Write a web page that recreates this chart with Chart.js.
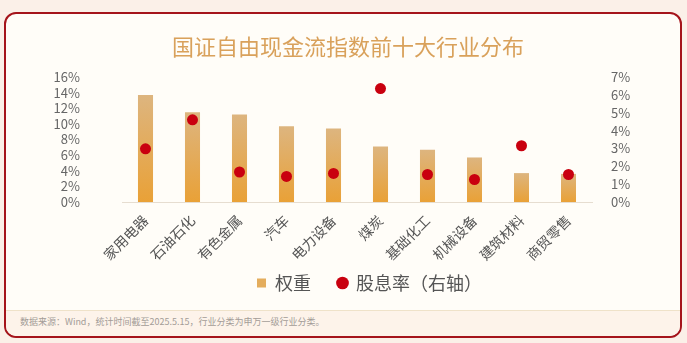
<!DOCTYPE html>
<html>
<head>
<meta charset="utf-8">
<script src="https://cdn.jsdelivr.net/npm/chart.js@4.4.1/dist/chart.umd.min.js"></script>
<style>
  html, body { margin: 0; padding: 0; }
  body {
    width: 687px; height: 343px; overflow: hidden; position: relative;
    background: #fbf0e8;
    font-family: "Noto Sans CJK SC", "Noto Sans", sans-serif;
  }
  .card {
    position: absolute; left: 4px; top: 12px; width: 678px; height: 326px;
    box-sizing: border-box; border: 2px solid #a5141b; border-radius: 12px;
    background: #fffdf8; overflow: hidden;
  }
  .title {
    position: absolute; left: 0; top: 18px; width: 684px;
    text-align: center; font-size: 22px; line-height: 26px; color: #d9a15b;
  }
  .chart-box { position: absolute; left: 0; top: 0; width: 674px; height: 296px; }
  .note {
    position: absolute; left: 0; right: 0; top: 296px; bottom: 0;
    border-top: 1px solid #efe2c9; background: #fdf3ea;
    font-size: 9px; line-height: 22px; color: #a39c97; padding-left: 14px;
  }
</style>
</head>
<body>
<div class="card">
  <div class="chart-box"><canvas id="industryChart"></canvas></div>
  <div class="title">国证自由现金流指数前十大行业分布</div>
  <div class="note">数据来源：Wind，统计时间截至2025.5.15，行业分类为申万一级行业分类。</div>
</div>
<script>
// 前十大行业：权重（左轴，%）与股息率（右轴，%）
const industries = ['家用电器', '石油石化', '有色金属', '汽车', '电力设备', '煤炭', '基础化工', '机械设备', '建筑材料', '商贸零售'];
const weights = [13.7, 11.5, 11.2, 9.7, 9.4, 7.1, 6.7, 5.7, 3.7, 3.6];
const dividendYield = [2.98, 4.6, 1.68, 1.43, 1.6, 6.35, 1.54, 1.26, 3.15, 1.54];
const weightAxis = { max: 16, step: 2 };
const yieldAxis = { max: 7, step: 1 };

const ctx = document.getElementById('industryChart').getContext('2d');

// 每根柱子从顶部浅棕渐变到底部橙色
const barFill = (c) => {
  const chart = c.chart;
  if (!chart.chartArea || c.raw === undefined) return '#e5ad58';
  const y = chart.scales.y;
  const g = chart.ctx.createLinearGradient(0, y.getPixelForValue(c.raw), 0, y.getPixelForValue(0));
  g.addColorStop(0, '#ddb57f');
  g.addColorStop(1, '#e9a137');
  return g;
};

// 图例上移、略右移，紧贴在斜放的行业名称下方
const placeLegend = {
  id: 'placeLegend',
  afterLayout(chart) {
    const l = chart.legend;
    l.top -= 18;
    l.bottom -= 18;
    l.left += 26.5;
    l.right += 26.5;
  }
};

const cjk = '"Noto Sans CJK SC", sans-serif';

new Chart(ctx, {
  data: {
    labels: industries,
    datasets: [
      {
        type: 'bar',
        label: '权重',
        data: weights,
        yAxisID: 'y',
        backgroundColor: barFill,
        barPercentage: 0.32,
        categoryPercentage: 1,
        pointStyle: 'rect',
        order: 2
      },
      {
        type: 'line',
        label: '股息率（右轴）',
        data: dividendYield,
        yAxisID: 'y1',
        showLine: false,
        pointRadius: 5.5,
        pointBackgroundColor: '#c9000f',
        pointBorderWidth: 0,
        backgroundColor: '#c9000f',
        pointStyle: 'circle',
        order: 1
      }
    ]
  },
  options: {
    responsive: true,
    maintainAspectRatio: false,
    animation: false,
    layout: { padding: { top: 63, left: 0, right: 0, bottom: -10 } },
    scales: {
      x: {
        grid: { display: false },
        border: { color: '#e6ddd0' },
        ticks: {
          autoSkip: false, minRotation: 45, maxRotation: 45,
          font: { family: cjk, size: 14 }, color: '#555', padding: 2
        },
        afterFit: (s) => { s.height = 63; }
      },
      y: {
        position: 'left',
        min: 0, max: weightAxis.max,
        grid: { display: false },
        border: { display: false },
        ticks: {
          autoSkip: false,
          stepSize: weightAxis.step, padding: 34,
          font: { family: cjk, size: 13 }, color: '#666',
          callback: (v) => v + '%'
        },
        afterFit: (s) => { s.width = 116; }
      },
      y1: {
        position: 'right',
        min: 0, max: yieldAxis.max,
        grid: { display: false },
        border: { display: false },
        ticks: {
          autoSkip: false,
          stepSize: yieldAxis.step, padding: 11,
          font: { family: cjk, size: 13 }, color: '#666',
          callback: (v) => v + '%'
        },
        afterFit: (s) => { s.width = 88; }
      }
    },
    plugins: {
      tooltip: { enabled: false },
      legend: {
        position: 'bottom',
        labels: {
          usePointStyle: true,
          boxWidth: 9, boxHeight: 9,
          padding: 27,
          color: '#555',
          font: { family: cjk, size: 18 },
          sort: (a, b) => a.datasetIndex - b.datasetIndex,
          generateLabels: (chart) => Chart.defaults.plugins.legend.labels.generateLabels(chart)
            .map((item) => item.datasetIndex === 0 ? { ...item, fillStyle: '#e4ad5d', strokeStyle: '#e4ad5d' } : item)
        }
      }
    }
  },
  plugins: [placeLegend]
});
</script>
</body>
</html>
